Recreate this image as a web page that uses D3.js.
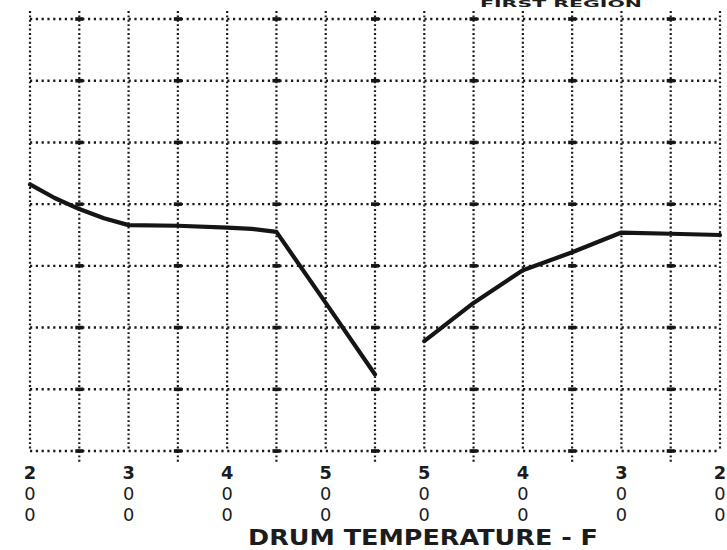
<!DOCTYPE html>
<html>
<head>
<meta charset="utf-8">
<script src="https://cdn.jsdelivr.net/npm/d3@7/dist/d3.min.js"></script>
<style>
  html, body { margin: 0; padding: 0; background: #ffffff; }
  svg { display: block; }
</style>
</head>
<body>
<svg id="chart" width="727" height="550"></svg>
<script>
// ---------- data (y in grid units) ----------
const heatTemps  = [200, 225, 250, 275, 300, 350, 400, 425, 450, 500, 550];
const heatValues = [4.32, 4.10, 3.92, 3.77, 3.66, 3.65, 3.62, 3.60, 3.55, 2.40, 1.24];

const coolTemps  = [500, 450, 400, 350, 300, 250, 200];
const coolValues = [1.78, 2.40, 2.93, 3.22, 3.54, 3.52, 3.50];

const heatTickLabels = [200, 300, 400, 500];
const coolTickLabels = [500, 400, 300, 200];
const gridTempsHeat = [200, 250, 300, 350, 400, 450, 500, 550];
const gridTempsCool = [500, 450, 400, 350, 300, 250, 200];
const gridRows = [0, 1, 2, 3, 4, 5, 6, 7];

const xTitle = "DRUM TEMPERATURE - F";
const topText = "FIRST REGION";

// ---------- layout ----------
const plotLeft = 30, plotRight = 720, plotTop = 19, plotBottom = 451;
const plotMid = plotLeft + (plotRight - plotLeft) / 2;

const xHeat = d3.scaleLinear().domain([200, 550]).range([plotLeft, plotMid]);
const xCool = d3.scaleLinear().domain([550, 200]).range([plotMid, plotRight]);
const yScale = d3.scaleLinear().domain([0, 7]).range([plotBottom, plotTop]);

const svg = d3.select("#chart");
const ink = "#1c1c1c";

// vertical grid positions
const vGrid = gridTempsHeat.map(t => ({x: xHeat(t), odd: (t / 50) % 2 === 1}))
  .concat(gridTempsCool.map(t => ({x: xCool(t), odd: (t / 50) % 2 === 1})));

const g = svg.append("g");

// horizontal dotted lines
g.selectAll("line.h").data(gridRows).enter().append("line")
  .attr("x1", plotLeft).attr("x2", plotRight)
  .attr("y1", d => yScale(d)).attr("y2", d => yScale(d))
  .attr("stroke", "#1a1a1a").attr("stroke-width", 2.4)
  .attr("stroke-dasharray", "2.2 3.6");

// vertical dotted lines
g.selectAll("line.v").data(vGrid).enter().append("line")
  .attr("x1", d => d.x).attr("x2", d => d.x)
  .attr("y1", plotTop - 8)
  .attr("y2", d => d.odd ? plotBottom + 12 : plotBottom)
  .attr("stroke", "#1a1a1a").attr("stroke-width", 2.2)
  .attr("stroke-dasharray", "1.9 2.5");

// bold dashes at odd verticals on each horizontal line
const marks = [];
vGrid.filter(d => d.odd).forEach(v => gridRows.forEach(r => marks.push({x: v.x, y: yScale(r)})));
g.selectAll("rect.mark").data(marks).enter().append("rect")
  .attr("x", d => d.x - 4).attr("y", d => d.y - 1.8)
  .attr("width", 8).attr("height", 3.6)
  .attr("fill", "#151515");

// ---------- data lines ----------
const heatLine = d3.line().x(d => xHeat(d[0])).y(d => yScale(d[1]));
const coolLine = d3.line().x(d => xCool(d[0])).y(d => yScale(d[1]));

svg.append("path")
  .datum(heatTemps.map((t, i) => [t, heatValues[i]]))
  .attr("d", heatLine)
  .attr("fill", "none").attr("stroke", "#151515").attr("stroke-width", 4.2)
  .attr("stroke-linejoin", "round").attr("stroke-linecap", "round");

svg.append("path")
  .datum(coolTemps.map((t, i) => [t, coolValues[i]]))
  .attr("d", coolLine)
  .attr("fill", "none").attr("stroke", "#151515").attr("stroke-width", 4.2)
  .attr("stroke-linejoin", "round").attr("stroke-linecap", "round");

// ---------- tick labels (stacked digits) ----------
const labelFont = "'DejaVu Sans', sans-serif";
function stacked(data, scale) {
  const grp = svg.append("g");
  data.forEach(v => {
    String(v).split("").forEach((ch, k) => {
      grp.append("text")
        .attr("x", scale(v)).attr("y", 479 + k * 21)
        .attr("text-anchor", "middle")
        .attr("font-family", labelFont).attr("font-size", 17.8)
        .attr("font-weight", k === 0 ? "bold" : "normal")
        .attr("fill", ink)
        .text(ch);
    });
  });
}
stacked(heatTickLabels, xHeat);
stacked(coolTickLabels, xCool);

// ---------- axis title ----------
svg.append("text")
  .attr("x", 248).attr("y", 545)
  .attr("font-family", labelFont).attr("font-weight", "bold")
  .attr("font-size", 21).attr("fill", ink)
  .attr("textLength", 350).attr("lengthAdjust", "spacingAndGlyphs")
  .text(xTitle);

// ---------- heading at the top (cropped in the scan; kept small so it fits) ----------
svg.append("text")
  .attr("x", 480).attr("y", 7)
  .attr("font-family", labelFont).attr("font-weight", "bold")
  .attr("font-size", 8.5).attr("fill", ink)
  .attr("textLength", 162).attr("lengthAdjust", "spacingAndGlyphs")
  .text(topText);
</script>
</body>
</html>
